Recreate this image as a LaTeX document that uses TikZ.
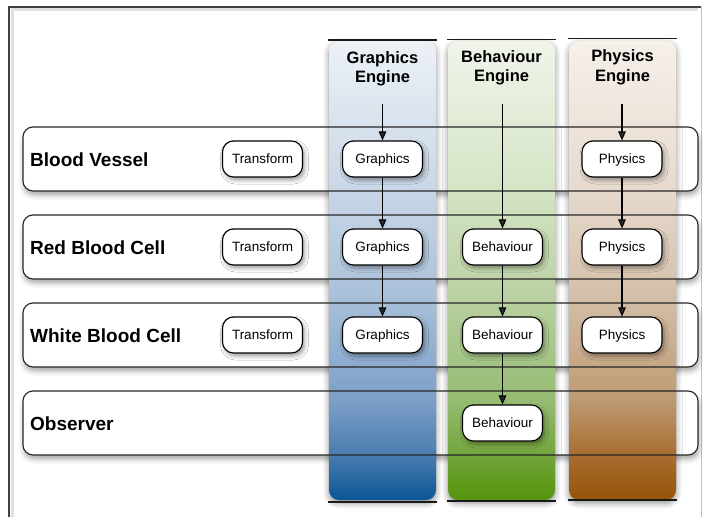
\documentclass[tikz,border=0pt]{standalone}
\usepackage{fontspec}
\setmainfont{Liberation Sans}
\usetikzlibrary{shadows.blur,arrows.meta}

% column colours, bottom to top
\definecolor{gA}{RGB}{10,85,150}
\definecolor{gB}{RGB}{75,125,175}
\definecolor{gC}{RGB}{125,160,200}
\definecolor{gD}{RGB}{172,194,218}
\definecolor{gE}{RGB}{203,217,232}
\definecolor{gF}{RGB}{236,241,246}
\definecolor{bA}{RGB}{85,148,10}
\definecolor{bB}{RGB}{115,165,60}
\definecolor{bC}{RGB}{150,188,115}
\definecolor{bD}{RGB}{188,210,165}
\definecolor{bE}{RGB}{215,230,200}
\definecolor{bF}{RGB}{240,244,234}
\definecolor{pA}{RGB}{150,84,8}
\definecolor{pB}{RGB}{168,110,50}
\definecolor{pC}{RGB}{190,155,115}
\definecolor{pD}{RGB}{213,193,172}
\definecolor{pE}{RGB}{232,220,208}
\definecolor{pF}{RGB}{246,240,234}

\pgfdeclareverticalshading{gfxshade}{100bp}{color(0bp)=(gA); color(25bp)=(gA); color(30bp)=(gB); color(36bp)=(gC); color(48bp)=(gD); color(60bp)=(gE); color(75bp)=(gF); color(100bp)=(gF)}
\pgfdeclareverticalshading{behshade}{100bp}{color(0bp)=(bA); color(25bp)=(bA); color(30bp)=(bB); color(36bp)=(bC); color(48bp)=(bD); color(60bp)=(bE); color(75bp)=(bF); color(100bp)=(bF)}
\pgfdeclareverticalshading{physhade}{100bp}{color(0bp)=(pA); color(25bp)=(pA); color(30bp)=(pB); color(36bp)=(pC); color(48bp)=(pD); color(60bp)=(pE); color(75bp)=(pF); color(100bp)=(pF)}

\begin{document}
\begin{tikzpicture}[x=1pt,y=-1pt,
  rowshadow/.style={fill=white, rounded corners=10pt,
    blur shadow={shadow xshift=1pt, shadow yshift=-4pt, shadow blur radius=5pt, shadow opacity=35}},
  rowbox/.style={draw=black!85, line width=1.1pt, rounded corners=10pt},
  column/.style={rounded corners=10pt, minimum width=107pt, minimum height=459pt, inner sep=0pt,
    blur shadow={shadow xshift=0pt, shadow yshift=-3pt, shadow blur radius=6pt, shadow opacity=45}},
  rule/.style={line width=1.2pt, black!90},
  comp/.style={draw=black, fill=white, line width=1.1pt, rounded corners=11pt,
    minimum width=80pt, minimum height=36pt, inner sep=0pt,
    text height=9.9pt, text depth=0pt,
    font=\fontsize{13.5}{16}\selectfont,
    blur shadow={shadow xshift=2pt, shadow yshift=-3pt, shadow blur radius=4pt, shadow opacity=40}},
  rowlabel/.style={anchor=base west, inner sep=0pt, font=\fontsize{19}{22}\bfseries\selectfont},
  head/.style={align=center, inner sep=0pt, font=\fontsize{16.5}{19.5}\bfseries\selectfont},
  flow/.style={-{Triangle[length=9pt,width=7.5pt]}, line width=1.1pt}
]
\useasboundingbox (0,0) rectangle (703,516);
\clip (0,0) rectangle (703,516);

% outer frame
\draw[black!12, line width=3pt] (12,530) -- (12,10) -- (698,10);
\draw[black!75, line width=1.2pt] (9,530) -- (9,7) -- (701,7);
\draw[black!25, line width=1pt] (701,7) -- (701,530);

% row backgrounds with their shadows
\path[rowshadow] (23,127) rectangle (698,191);
\path[rowshadow] (23,215) rectangle (698,279);
\path[rowshadow] (23,303) rectangle (698,367);
\path[rowshadow] (23,391) rectangle (698,455);

% engine columns
\node[column, shading=gfxshade] (gcol) at (382.5,270.5) {};
\node[column, shading=behshade] (bcol) at (501.5,270.5) {};
\node[column, shading=physhade] (pcol) at (622.5,270.5) {};
\draw[rule] (328,40) -- (437,40);
\draw[rule] (447,39.5) -- (556,39.5);
\draw[rule] (568,38.5) -- (677,38.5);
\draw[rule] (328,502) -- (437,502);
\draw[rule] (447,501) -- (556,501);
\draw[rule] (568,500) -- (677,500);

\node[head] (gh) at (382.5,69) {Graphics\\Engine};
\node[head] (bh) at (501.5,68) {Behaviour\\Engine};
\node[head] (ph) at (622.5,67.5) {Physics\\Engine};

% row outlines
\draw[rowbox] (23,127) rectangle (698,191);
\draw[rowbox] (23,215) rectangle (698,279);
\draw[rowbox] (23,303) rectangle (698,367);
\draw[rowbox] (23,391) rectangle (698,455);

% row labels
\node[rowlabel] (lbv) at (30,166) {Blood Vessel};
\node[rowlabel] (lrb) at (30,254) {Red Blood Cell};
\node[rowlabel] (lwb) at (30,342) {White Blood Cell};
\node[rowlabel] (lob) at (30,430) {Observer};

% components
\node[comp] (t1) at (262.5,159) {Transform};
\node[comp] (t2) at (262.5,247) {Transform};
\node[comp] (t3) at (262.5,335) {Transform};

\node[comp] (g1) at (382.5,159) {Graphics};
\node[comp] (g2) at (382.5,247) {Graphics};
\node[comp] (g3) at (382.5,335) {Graphics};

\node[comp] (b2) at (502.5,247) {Behaviour};
\node[comp] (b3) at (502.5,335) {Behaviour};
\node[comp] (b4) at (502.5,423) {Behaviour};

\node[comp] (p1) at (622,159) {Physics};
\node[comp] (p2) at (622,247) {Physics};
\node[comp] (p3) at (622,335) {Physics};

% update order per engine
\coordinate (gs) at (382.5,104);
\coordinate (bs) at (502.5,104);
\coordinate (ps) at (622,104);

\draw[flow] (gs) -- (g1);
\draw[flow] (g1) -- (g2);
\draw[flow] (g2) -- (g3);

\draw[flow] (bs) -- (b2);
\draw[flow] (b2) -- (b3);
\draw[flow] (b3) -- (b4);

\draw[flow] (ps) -- (p1);
\draw[flow] (p1) -- (p2);
\draw[flow] (p2) -- (p3);
\end{tikzpicture}
\end{document}
